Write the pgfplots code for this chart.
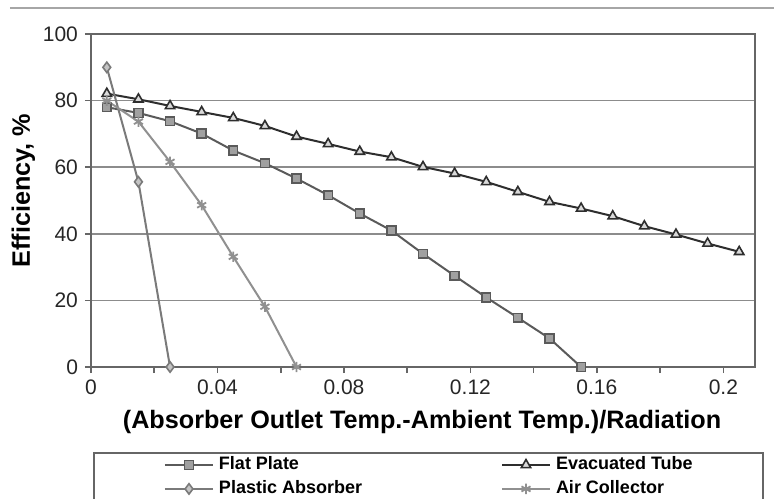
\documentclass[border=0pt]{standalone}
\usepackage{fontspec}
\setmainfont{Liberation Sans}
\usepackage{pgfplots}
\pgfplotsset{compat=1.18}
\definecolor{axisgray}{HTML}{666666}
\definecolor{gridgray}{HTML}{8C8C8C}
\definecolor{flatline}{HTML}{5A5A5A}
\definecolor{flatfill}{HTML}{A0A0A0}
\definecolor{evacline}{HTML}{2E2E2E}
\definecolor{plastline}{HTML}{7A7A7A}
\definecolor{plastfill}{HTML}{C4C4C4}
\definecolor{airline}{HTML}{909090}
\begin{document}
\begin{tikzpicture}
\begin{axis}[
    scale only axis,
    width=332pt, height=166.5pt,
    xmin=0, xmax=0.21, ymin=0, ymax=100,
    axis line style={draw=axisgray, line width=1pt},
    xtick={0,0.04,0.08,0.12,0.16,0.2},
    xticklabels={0,0.04,0.08,0.12,0.16,0.2},
    minor xtick={0.02,0.06,0.1,0.14,0.18},
    ytick={0,20,40,60,80,100},
    yticklabels={0,20,40,60,80,100},
    xtick pos=bottom, ytick pos=left,
    tick align=outside,
    major tick length=3pt, minor tick length=3pt,
    tick style={draw=axisgray, line width=0.8pt},
    ymajorgrids,
    major grid style={draw=gridgray, line width=0.9pt},
    tick label style={font=\fontsize{10.5}{12}\selectfont, text=black!85},
    xlabel={(Absorber Outlet Temp.-Ambient Temp.)/Radiation},
    ylabel={Efficiency, \%},
    label style={font=\fontsize{12.6}{14}\selectfont\bfseries},
    xlabel style={at={(axis description cs:0.4985,-0.165)}, anchor=center},
    ylabel style={at={(axis description cs:-0.102,0.53)}, anchor=center, rotate=0},
    legend columns=2,
    legend style={at={(axis description cs:0.003,-0.255)}, anchor=north west,
        draw=axisgray, line width=1pt, inner xsep=35pt, inner ysep=0pt,
        column sep=0pt, row sep=0pt,
        font=\fontsize{9}{10}\selectfont\bfseries,
        nodes={inner xsep=0pt, inner ysep=2pt, text height=6.5pt, text depth=1.5pt, anchor=west}},
    legend image code/.code={
        \draw[mark repeat=2, mark phase=2, #1] plot coordinates {(0pt,0pt) (12pt,0pt) (24pt,0pt)};
        \path (26.5pt,0pt);
    },
]
\addplot[flatline, line width=1pt, mark=square*,
    mark options={fill=flatfill, draw=flatline, line width=0.8pt, mark size=2.2pt}]
coordinates {(0.005,78) (0.015,76.3) (0.025,73.8) (0.035,70.1) (0.045,65)
 (0.055,61.2) (0.065,56.6) (0.075,51.6) (0.085,46.1) (0.095,41)
 (0.105,34) (0.115,27.4) (0.125,20.9) (0.135,14.8) (0.145,8.6) (0.155,0)};
\addlegendentry{\makebox[141pt][l]{Flat Plate}}
\addplot[evacline, line width=1pt, mark=triangle*,
    mark options={fill=white!85!black, draw=evacline, line width=0.8pt, mark size=2.7pt}]
coordinates {(0.005,82.1) (0.015,80.4) (0.025,78.4) (0.035,76.6) (0.045,74.8)
 (0.055,72.4) (0.065,69.2) (0.075,67) (0.085,64.7) (0.095,63)
 (0.105,60.1) (0.115,58.1) (0.125,55.6) (0.135,52.6) (0.145,49.6)
 (0.155,47.6) (0.165,45.3) (0.175,42.3) (0.185,39.8) (0.195,37.1) (0.205,34.6)};
\addlegendentry{\makebox[68.5pt][l]{Evacuated Tube}}
\addplot[plastline, line width=1pt, mark=diamond*,
    mark options={fill=plastfill, draw=plastline, line width=0.8pt, mark size=2.6pt}]
coordinates {(0.005,90) (0.015,55.6) (0.025,0)};
\addlegendentry{\makebox[141pt][l]{Plastic Absorber}}
\addplot[airline, line width=1pt, mark=asterisk,
    mark options={draw=airline, line width=0.9pt, mark size=2.6pt}]
coordinates {(0.005,80) (0.015,73.7) (0.025,61.6) (0.035,48.6) (0.045,33.1)
 (0.055,18.1) (0.065,0)};
\addlegendentry{\makebox[68.5pt][l]{Air Collector}}
\end{axis}
\draw[draw=black!35, line width=0.8pt] (-40.5pt,179.5pt) -- (341.5pt,179.5pt);
\pgfresetboundingbox
\path (-45.5pt,-65.5pt) rectangle (341.5pt,183.5pt);
\end{tikzpicture}
\end{document}
